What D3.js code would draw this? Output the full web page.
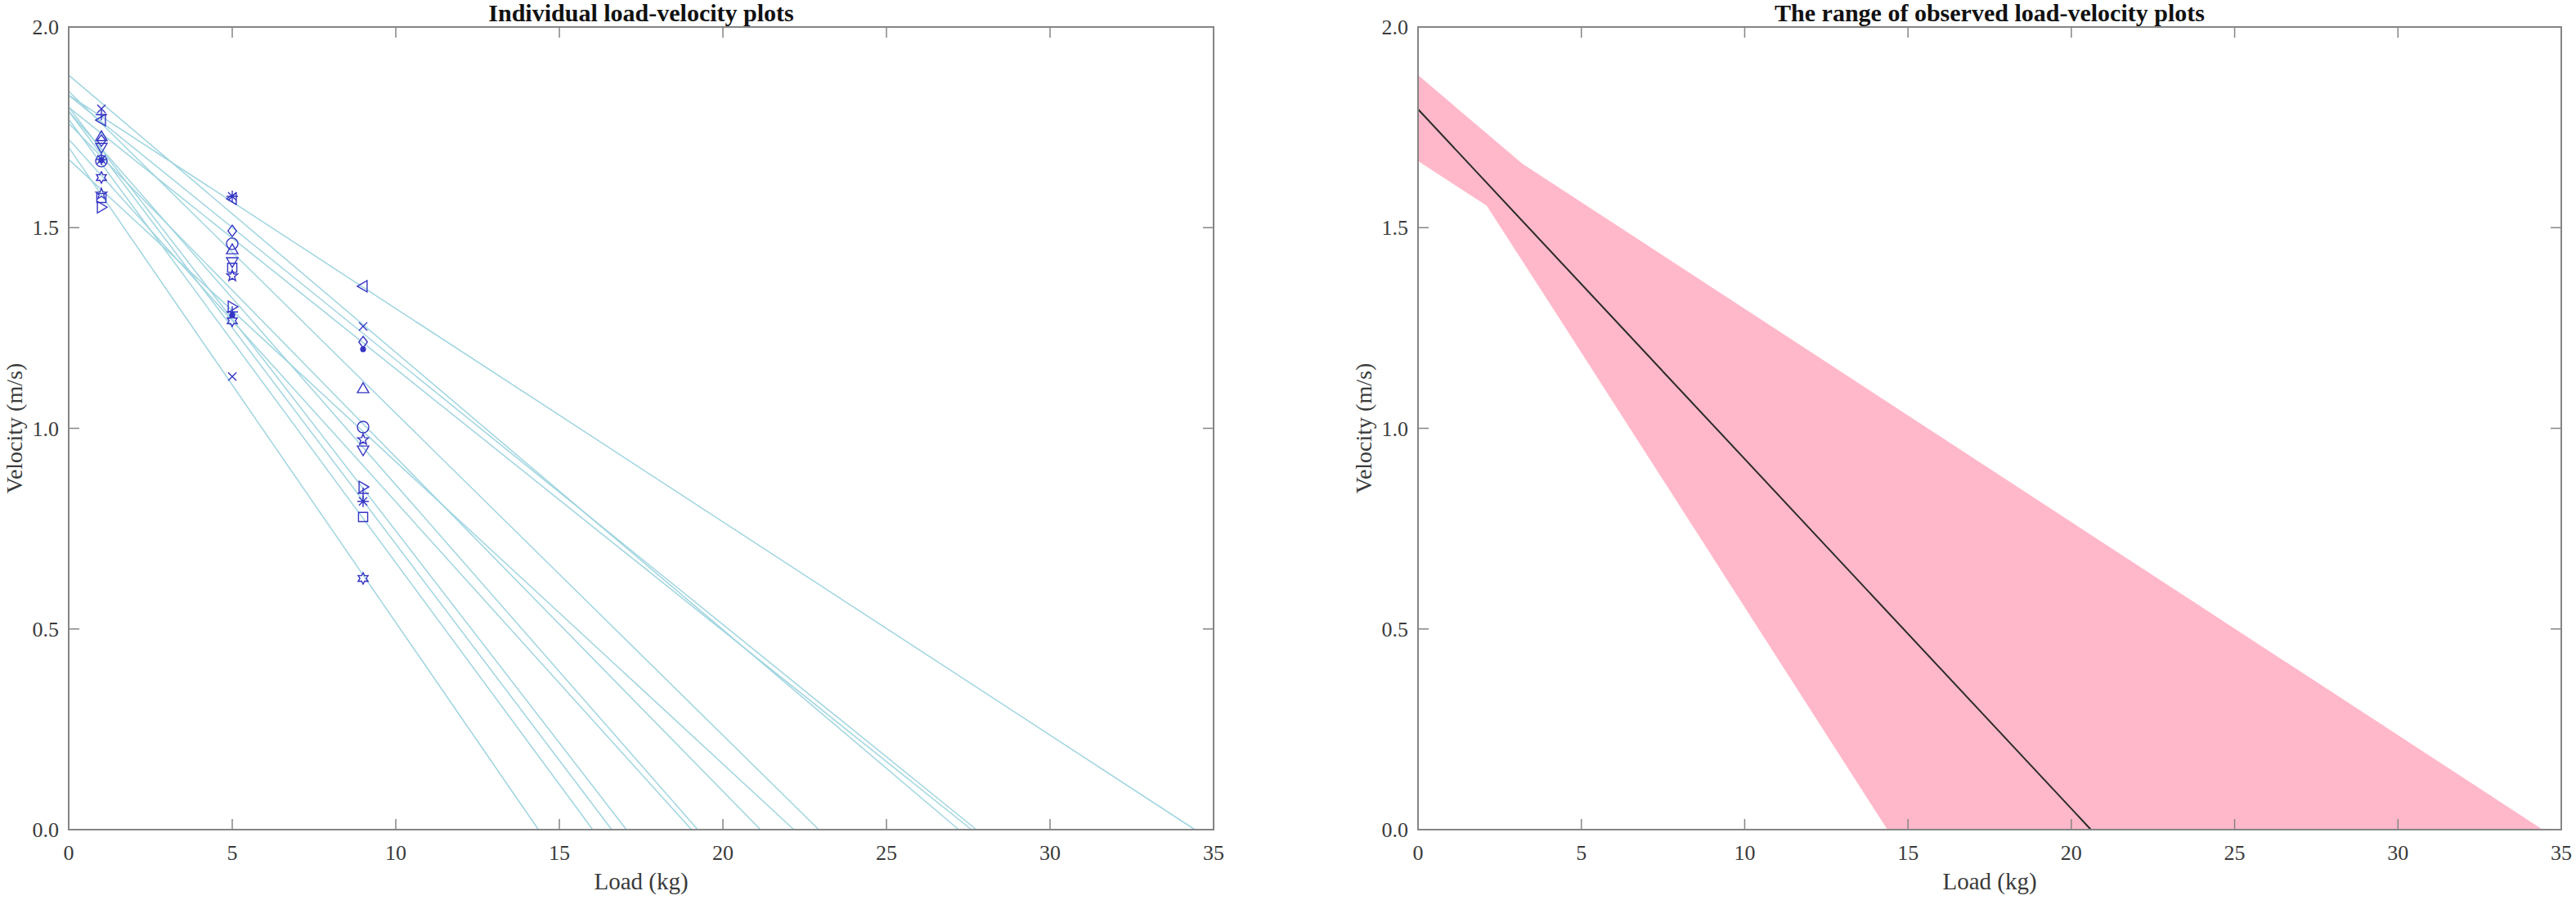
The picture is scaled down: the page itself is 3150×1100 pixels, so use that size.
<!DOCTYPE html>
<html>
<head>
<meta charset="utf-8">
<script src="https://cdn.jsdelivr.net/npm/d3@7"></script>
<style>
  html, body { margin: 0; padding: 0; background: #fff; }
  svg { display: block; }
  text { font-family: "Liberation Serif", "Times New Roman", serif; }
</style>
</head>
<body>
<svg id="chart" width="3150" height="1100"></svg>
<script>
// ---------------- DATA ----------------
const xTicks = [0, 5, 10, 15, 20, 25, 30, 35];
const yTicks = [0.0, 0.5, 1.0, 1.5, 2.0];

// measured loads (kg)
const loads = [1, 5, 9];
// marker symbols per subject (MATLAB style)
const markerSymbols = ['o', '+', '*', '.', 'x', 's', 'd', '^', 'v', '>', '<', 'p', 'h'];
// observed velocities (m/s) for each subject at 1, 5 and 9 kg
const velAt1 = [1.666, 1.782, 1.670, 1.668, 1.796, 1.574, 1.717, 1.727, 1.700, 1.551, 1.768, 1.584, 1.625];
const velAt5 = [1.460, 1.290, 1.578, 1.282, 1.129, 1.400, 1.492, 1.445, 1.415, 1.303, 1.572, 1.380, 1.268];
const velAt9 = [1.003, 0.838, 0.818, 1.197, 1.254, 0.779, 1.215, 1.099, 0.946, 0.854, 1.354, 0.972, 0.626];

// individual fitted load-velocity lines: velocity at 0 kg, and load at 0 m/s
const lineV0 = [1.70, 1.77, 1.79, 1.80, 1.72, 1.79, 1.76, 1.67, 1.84, 1.88, 1.80, 1.83, 1.83];
const lineL0 = [14.36, 16.02, 16.60, 17.05, 19.04, 19.23, 21.15, 22.17, 22.93, 27.21, 27.60, 27.75, 34.43];

// range band (right panel)
const bandUpperLoad = [0, 3.2, 34.43];
const bandUpperVel  = [1.880, 1.659, 0];
const bandLowerLoad = [0, 2.1, 4.2, 14.37];
const bandLowerVel  = [1.666, 1.555, 1.290, 0];

// mean line
const meanLoad = [0, 20.6];
const meanVel  = [1.795, 0];

const titles = ["Individual load-velocity plots", "The range of observed load-velocity plots"];

// ---------------- LAYOUT ----------------
const svg = d3.select("#chart");
const plotTop = 33, plotBottom = 1014;
const panels = [{x0: 84, x1: 1484}, {x0: 1734, x1: 3132}];
const axisColor = "#858585";
const textColor = "#3a3a3a";
const tickLen = 13;

function drawAxes(g, x, y, title) {
  const [xa, xb] = x.range();
  g.append("rect").attr("x", xa).attr("y", plotTop).attr("width", xb - xa).attr("height", plotBottom - plotTop)
    .attr("fill", "none").attr("stroke", axisColor).attr("stroke-width", 2);
  xTicks.forEach(t => {
    const px = x(t);
    if (t !== 0 && t !== 35) {
      g.append("line").attr("x1", px).attr("x2", px).attr("y1", plotBottom).attr("y2", plotBottom - tickLen)
        .attr("stroke", axisColor).attr("stroke-width", 1.5);
      g.append("line").attr("x1", px).attr("x2", px).attr("y1", plotTop).attr("y2", plotTop + tickLen)
        .attr("stroke", axisColor).attr("stroke-width", 1.5);
    }
    g.append("text").attr("x", px).attr("y", plotBottom + 37).attr("text-anchor", "middle")
      .attr("font-size", 26).attr("fill", textColor).text(t);
  });
  yTicks.forEach(t => {
    const py = y(t);
    if (t !== 0 && t !== 2) {
      g.append("line").attr("x1", xa).attr("x2", xa + tickLen).attr("y1", py).attr("y2", py)
        .attr("stroke", axisColor).attr("stroke-width", 1.5);
      g.append("line").attr("x1", xb).attr("x2", xb - tickLen).attr("y1", py).attr("y2", py)
        .attr("stroke", axisColor).attr("stroke-width", 1.5);
    }
    g.append("text").attr("x", xa - 12).attr("y", py + 9).attr("text-anchor", "end")
      .attr("font-size", 26).attr("fill", textColor).text(d3.format(".1f")(t));
  });
  g.append("text").attr("x", (xa + xb) / 2).attr("y", plotBottom + 73).attr("text-anchor", "middle")
    .attr("font-size", 29).attr("fill", textColor).text("Load (kg)");
  g.append("text").attr("transform", `translate(${xa - 57},${(plotTop + plotBottom) / 2}) rotate(-90)`)
    .attr("text-anchor", "middle").attr("font-size", 28).attr("fill", textColor).text("Velocity (m/s)");
  g.append("text").attr("x", (xa + xb) / 2).attr("y", plotTop - 7).attr("text-anchor", "middle")
    .attr("font-size", 30).attr("font-weight", "bold").attr("fill", "#111").text(title);
}

function markerPath(sym, s) {
  const p = d3.path();
  const r = s;
  switch (sym) {
    case 'o': p.arc(0, 0, r, 0, 2 * Math.PI); break;
    case '.': p.arc(0, 0, r * 0.42, 0, 2 * Math.PI); break;
    case '+': p.moveTo(-r, 0); p.lineTo(r, 0); p.moveTo(0, -r); p.lineTo(0, r); break;
    case 'x': { const q = r * 0.72; p.moveTo(-q, -q); p.lineTo(q, q); p.moveTo(-q, q); p.lineTo(q, -q); break; }
    case '*': { const q = r * 0.72; p.moveTo(-r, 0); p.lineTo(r, 0); p.moveTo(0, -r); p.lineTo(0, r);
      p.moveTo(-q, -q); p.lineTo(q, q); p.moveTo(-q, q); p.lineTo(q, -q); break; }
    case 's': { const q = r * 0.8; p.rect(-q, -q, 2 * q, 2 * q); break; }
    case 'd': p.moveTo(0, -r); p.lineTo(r * 0.75, 0); p.lineTo(0, r); p.lineTo(-r * 0.75, 0); p.closePath(); break;
    case '^': p.moveTo(0, -r); p.lineTo(r, r * 0.7); p.lineTo(-r, r * 0.7); p.closePath(); break;
    case 'v': p.moveTo(0, r); p.lineTo(r, -r * 0.7); p.lineTo(-r, -r * 0.7); p.closePath(); break;
    case '>': p.moveTo(r, 0); p.lineTo(-r * 0.7, r); p.lineTo(-r * 0.7, -r); p.closePath(); break;
    case '<': p.moveTo(-r, 0); p.lineTo(r * 0.7, r); p.lineTo(r * 0.7, -r); p.closePath(); break;
    case 'p': case 'h': {
      const n = sym === 'p' ? 5 : 6, ri = sym === 'p' ? r * 0.42 : r * 0.55;
      for (let i = 0; i < 2 * n; i++) {
        const a = -Math.PI / 2 + i * Math.PI / n, rr = i % 2 === 0 ? r : ri;
        const px = rr * Math.cos(a), py = rr * Math.sin(a);
        if (i === 0) p.moveTo(px, py); else p.lineTo(px, py);
      }
      p.closePath(); break;
    }
  }
  return p.toString();
}

// ---------------- LEFT PANEL ----------------
{
  const P = panels[0];
  const x = d3.scaleLinear().domain([0, 35]).range([P.x0, P.x1]);
  const y = d3.scaleLinear().domain([0, 2]).range([plotBottom, plotTop]);
  const g = svg.append("g");
  const lineGen = d3.line().x(d => x(d[0])).y(d => y(d[1]));
  const gl = g.append("g");
  lineV0.forEach((v0, i) => {
    gl.append("path").attr("d", lineGen([[0, v0], [lineL0[i], 0]]))
      .attr("fill", "none").attr("stroke", "#a0d5e0").attr("stroke-width", 1.5);
  });
  const gm = g.append("g");
  const series = [velAt1, velAt5, velAt9];
  markerSymbols.forEach((sym, i) => {
    loads.forEach((ld, j) => {
      gm.append("path").attr("transform", `translate(${x(ld)},${y(series[j][i])})`)
        .attr("d", markerPath(sym, 7))
        .attr("fill", sym === '.' ? "#3535c5" : "none")
        .attr("stroke", "#3535c5").attr("stroke-width", 1.4);
    });
  });
  drawAxes(g, x, y, titles[0]);
}

// ---------------- RIGHT PANEL ----------------
{
  const P = panels[1];
  const x = d3.scaleLinear().domain([0, 35]).range([P.x0, P.x1]);
  const y = d3.scaleLinear().domain([0, 2]).range([plotBottom, plotTop]);
  const g = svg.append("g");
  const upper = bandUpperLoad.map((l, i) => [l, bandUpperVel[i]]);
  const lower = bandLowerLoad.map((l, i) => [l, bandLowerVel[i]]);
  const poly = upper.concat(lower.slice().reverse());
  const lineGen = d3.line().x(d => x(d[0])).y(d => y(d[1]));
  g.append("path").attr("d", lineGen(poly) + "Z").attr("fill", "#ffb8ca").attr("stroke", "none");
  g.append("path").attr("d", lineGen(meanLoad.map((l, i) => [l, meanVel[i]])))
    .attr("fill", "none").attr("stroke", "#2a2a2a").attr("stroke-width", 2);
  drawAxes(g, x, y, titles[1]);
}
</script>
</body>
</html>
